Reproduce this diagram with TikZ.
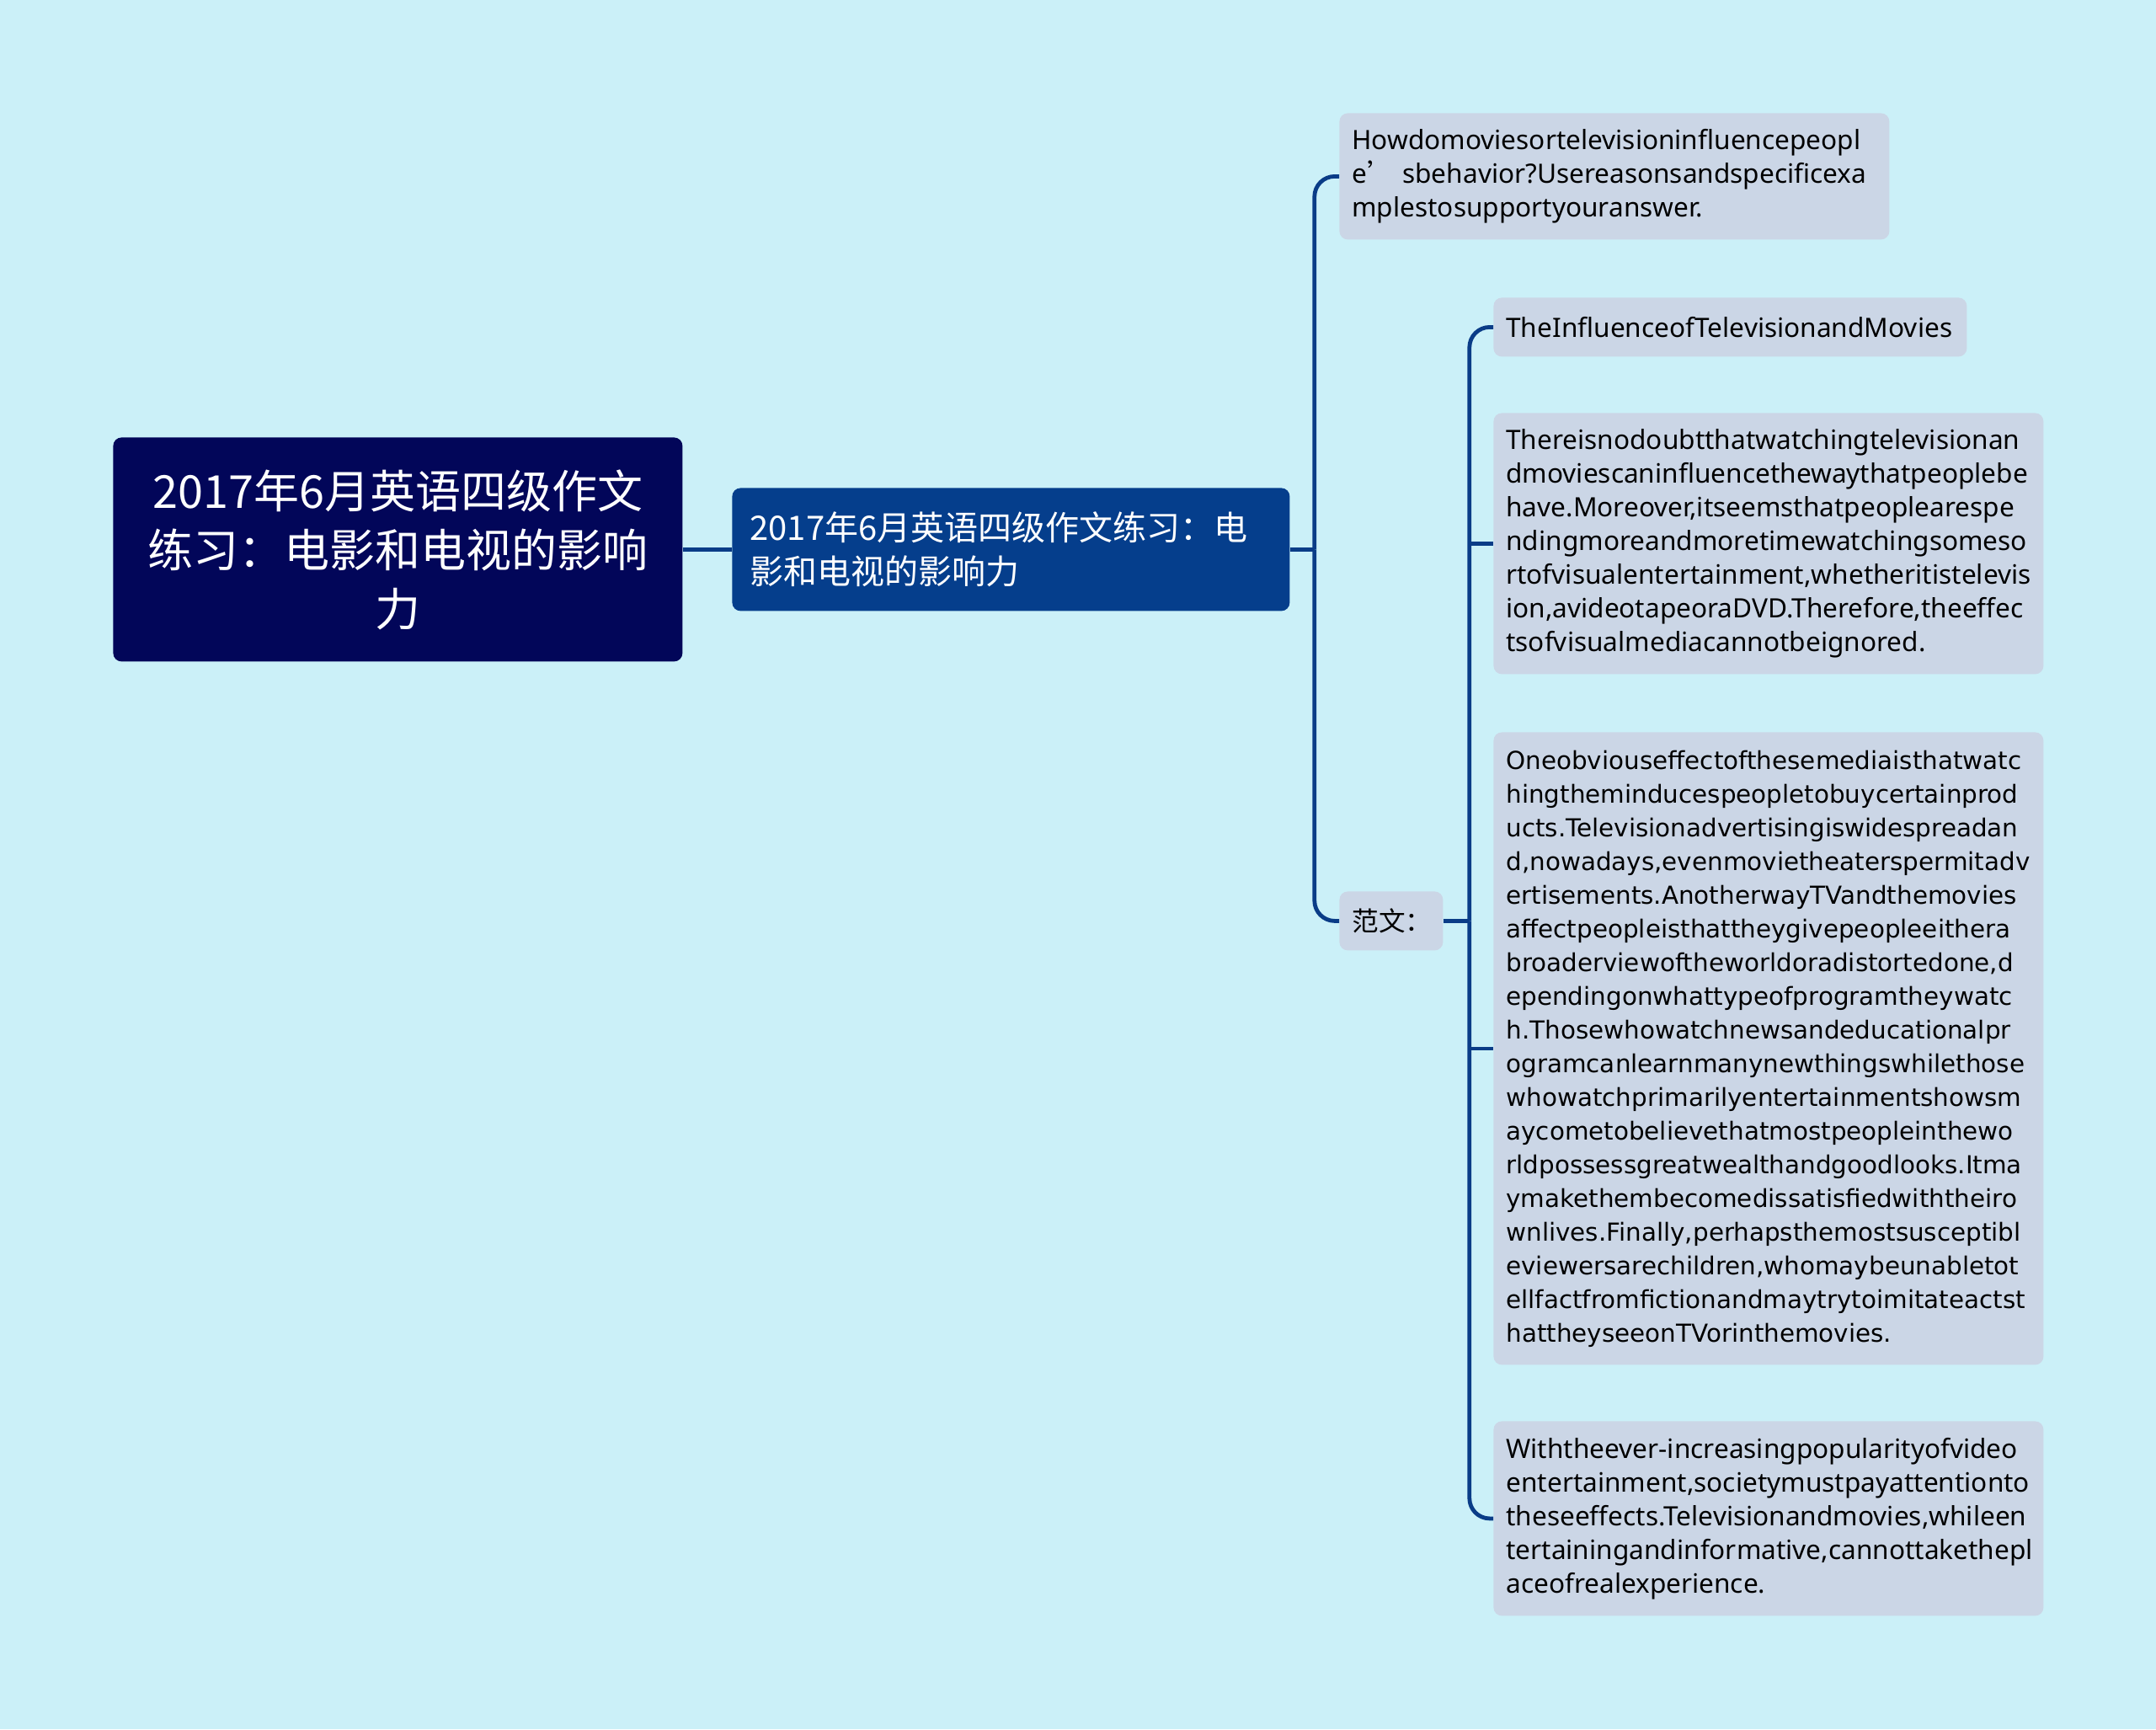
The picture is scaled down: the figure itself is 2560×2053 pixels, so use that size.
\documentclass[tikz,border=0pt]{standalone}
\usepackage{fontspec}
\setmainfont{Noto Sans}
\newfontfamily\cjk{Noto Sans CJK SC}
\newfontfamily\essayfont{DejaVu Sans}
\usepackage{xcolor}

\definecolor{bgcol}{HTML}{CBF0F8}
\definecolor{rootcol}{HTML}{020659}
\definecolor{subcol}{HTML}{053E8C}
\definecolor{leafcol}{HTML}{CBD6E6}
\definecolor{linkcol}{HTML}{0A3C87}

\tikzset{
    rootbox/.style={fill=rootcol, text=white, rounded corners=5pt, anchor=north west,
        align=center, inner sep=0pt, font=\cjk\fontsize{27}{35}\selectfont},
    subbox/.style={fill=subcol, text=white, rounded corners=5pt, anchor=north west,
        align=left, inner xsep=10.5pt, inner ysep=0pt, font=\cjk\fontsize{20}{26}\selectfont},
    leaf/.style={fill=leafcol, text=black, rounded corners=5pt, anchor=north west,
        align=left, inner xsep=7.5pt, inner ysep=0pt, font=\fontsize{15.8}{20}\selectfont},
    link/.style={draw=linkcol, line width=2.4pt, rounded corners=12pt}
}

\begin{document}
\begin{tikzpicture}[x=0.5pt, y=-0.5pt]
    \fill[bgcol] (0,0) rectangle (2560,2053);
    \useasboundingbox (0,0) rectangle (2560,2053);

    \node[rootbox, minimum width=338pt, minimum height=133pt, text width=320pt] (root) at (134,519)
        {2017年6月英语四级作文\\练习：电影和电视的影响\\力};
    \node[subbox, minimum height=73pt, text width=310pt] (sub) at (869,579)
        {2017年6月英语四级作文练习：电\\影和电视的影响力};

    \node[leaf, minimum height=75pt, text width=311.5pt] (ques) at (1590,134)
        {Howdomoviesortelevisioninfluencepeopl\\e{\cjk ’} sbehavior?Usereasonsandspecificexa\\mplestosupportyouranswer.};
    \node[leaf, minimum height=35pt, text width=46.5pt, font=\cjk\fontsize{15.8}{20}\selectfont] (fanwen) at (1590,1058)
        {范文：};

    \node[leaf, minimum height=35pt, text width=266pt] (title) at (1773,353)
        {TheInfluenceofTelevisionandMovies};
    \node[leaf, minimum height=155pt, text width=311.5pt] (para1) at (1773,490)
        {Thereisnodoubtthatwatchingtelevisionan\\dmoviescaninfluencethewaythatpeoplebe\\have.Moreover,itseemsthatpeoplearespe\\ndingmoreandmoretimewatchingsomeso\\rtofvisualentertainment,whetheritistelevis\\ion,avideotapeoraDVD.Therefore,theeffec\\tsofvisualmediacannotbeignored.};
    \node[leaf, minimum height=375.5pt, text width=311.5pt, font=\essayfont\fontsize{14.7}{20}\selectfont] (para2) at (1773,869)
        {Oneobviouseffectofthesemediaisthatwatc\\hingtheminducespeopletobuycertainprod\\ucts.Televisionadvertisingiswidespreadan\\d,nowadays,evenmovietheaterspermitadv\\ertisements.AnotherwayTVandthemovies\\affectpeopleisthattheygivepeopleeithera\\broaderviewoftheworldoradistortedone,d\\ependingonwhattypeofprogramtheywatc\\h.Thosewhowatchnewsandeducationalpr\\ogramcanlearnmanynewthingswhilethose\\whowatchprimarilyentertainmentshowsm\\aycometobelievethatmostpeopleinthewo\\rldpossessgreatwealthandgoodlooks.Itma\\ymakethembecomedissatisfiedwiththeiro\\wnlives.Finally,perhapsthemostsusceptibl\\eviewersarechildren,whomaybeunabletot\\ellfactfromfictionandmaytrytoimitateactst\\hattheyseeonTVorinthemovies.};
    \node[leaf, minimum height=115.5pt, text width=311.5pt] (para3) at (1773,1687)
        {Withtheever-increasingpopularityofvideo\\entertainment,societymustpayattentionto\\theseeffects.Televisionandmovies,whileen\\tertainingandinformative,cannottakethepl\\aceofrealexperience.};

    % connectors
    \draw[link] (root.east) -- (sub.west);
    \coordinate (j1) at ([xshift=14.5pt]sub.east);
    \draw[link] (sub.east) -- (j1);
    \draw[link] (j1) |- (ques.west);
    \draw[link] (j1) |- (fanwen.west);

    \coordinate (j2) at ([xshift=15.5pt]fanwen.east);
    \draw[link] (fanwen.east) -- (j2);
    \draw[link] (j2) |- (title.west);
    \draw[link] (j2) |- (para3.west);
    \foreach \n in {para1, para2}
        \draw[link] (\n.west -| j2) -- (\n.west);
\end{tikzpicture}
\end{document}
